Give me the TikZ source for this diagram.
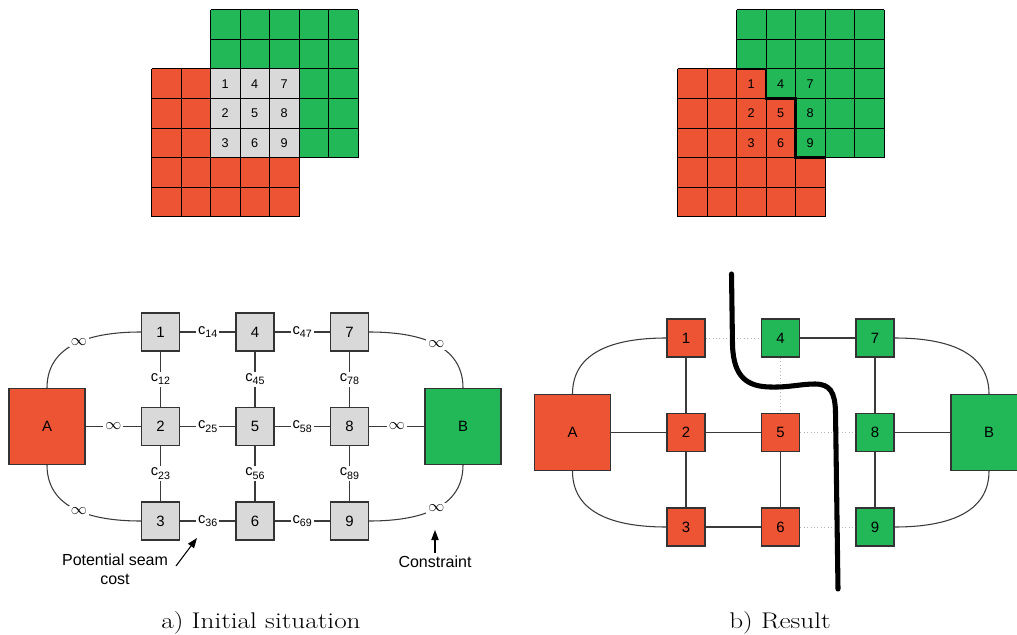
\documentclass[tikz,border=0pt]{standalone}
\usepackage{fontspec}
\newfontfamily\arial{Liberation Sans}
\usetikzlibrary{arrows.meta}
\definecolor{redc}{HTML}{EC5434}
\definecolor{greenc}{HTML}{22B757}
\definecolor{grayc}{HTML}{D9D9D9}
\definecolor{boxc}{HTML}{333333}
\definecolor{linec}{HTML}{3A3A3A}
\definecolor{cutc}{HTML}{B4B4B4}
% weight label with a lowered, smaller index
\newcommand\wsub[2]{#1\raisebox{-0.45ex}{\fontsize{8}{9}\selectfont #2}}
% wide caption lettering
\newcommand\captext[1]{\scalebox{1.2}[1]{#1}}
\tikzset{
  gridline/.style={black, line width=0.75pt},
  gridnum/.style={inner sep=0pt, font=\arial\fontsize{9.5}{11}\selectfont},
  seamedge/.style={black, line width=2pt},
  cell/.style={draw=boxc, line width=0.9pt, minimum size=28.5pt, inner sep=0pt,
    font=\arial\fontsize{11.2}{13}\selectfont},
  graybox/.style={cell, fill=grayc},
  redbox/.style={cell, fill=redc},
  greenbox/.style={cell, fill=greenc},
  bigbox/.style={minimum size=57pt},
  edge/.style={draw=linec, line width=0.8pt},
  cutedge/.style={draw=cutc, dotted, line width=0.6pt},
  weight/.style={fill=white, inner sep=1.5pt, font=\arial\fontsize{11}{13}\selectfont},
  inf/.style={fill=white, inner sep=1.5pt, font=\fontsize{13}{15}\selectfont},
  note/.style={inner sep=2pt, font=\arial\fontsize{12}{14.5}\selectfont},
  pointer/.style={black, line width=0.8pt, -{Triangle[length=7.5pt,width=5.5pt]}},
  seam/.style={black, line width=3.8pt, line cap=round},
  caption/.style={inner sep=0pt, font=\fontsize{17}{20}\selectfont},
}
\begin{document}
\begin{tikzpicture}[x=0.75pt, y=-0.75pt]
\useasboundingbox (0,0) rectangle (1017,635);
\clip (0,0) rectangle (1017,635);

% ---------- top left: two overlapping patches ----------
\fill[greenc] (210.5,10) rectangle ++(147.5,147.5);
\fill[redc] (151.5,69) rectangle ++(147.5,147.5);
\fill[grayc] (210.5,69) rectangle ++(88.5,88.5);

% ---------- top right: patches after the cut ----------
\fill[greenc] (736.5,10) rectangle ++(147.5,147.5);
\fill[redc] (677.5,69) rectangle ++(147.5,147.5);
\foreach \cx/\cy in {766/69, 795.5/69, 795.5/98.5, 795.5/128}
  \fill[greenc] (\cx,\cy) rectangle ++(29.5,29.5);

% pixel grids of both patches
\foreach \ox/\oy in {151.5/69, 210.5/10, 677.5/69, 736.5/10} {
  \foreach \i in {0,...,5} {
    \draw[gridline] (\ox+29.5*\i,\oy) -- ++(0,147.5);
    \draw[gridline] (\ox,\oy+29.5*\i) -- ++(147.5,0);
  }
}

% numbered overlap pixels
\foreach \c in {0,1,2} {
  \foreach \r in {0,1,2} {
    \pgfmathtruncatemacro\k{3*\c+\r+1}
    \node[gridnum] (gl\k) at (225.25+29.5*\c, 83.75+29.5*\r) {\k};
    \node[gridnum] (gr\k) at (751.25+29.5*\c, 83.75+29.5*\r) {\k};
  }
}

% seam between the patches
\draw[seamedge] (736.5,69) -- (766,69) -- (766,98.5) -- (795.5,98.5)
  -- (795.5,157.5) -- (825,157.5);

% ---------- bottom left: graph before the cut ----------
\foreach \c in {0,1,2} {
  \foreach \r in {0,1,2} {
    \pgfmathtruncatemacro\k{3*\c+\r+1}
    \node[graybox] (L\k) at (160.5+94.5*\c, 332+94.5*\r) {\k};
  }
}
\node[redbox, bigbox] (LA) at (47,426.5) {A};
\node[greenbox, bigbox] (LB) at (463,426.5) {B};

\draw[edge] (L1) -- node[weight] {\wsub{c}{14}} (L4);
\draw[edge] (L4) -- node[weight] {\wsub{c}{47}} (L7);
\draw[edge] (L2) -- node[weight] {\wsub{c}{25}} (L5);
\draw[edge] (L5) -- node[weight] {\wsub{c}{58}} (L8);
\draw[edge] (L3) -- node[weight] {\wsub{c}{36}} (L6);
\draw[edge] (L6) -- node[weight] {\wsub{c}{69}} (L9);
\draw[edge] (L1) -- node[weight] {\wsub{c}{12}} (L2);
\draw[edge] (L2) -- node[weight] {\wsub{c}{23}} (L3);
\draw[edge] (L4) -- node[weight] {\wsub{c}{45}} (L5);
\draw[edge] (L5) -- node[weight] {\wsub{c}{56}} (L6);
\draw[edge] (L7) -- node[weight] {\wsub{c}{78}} (L8);
\draw[edge] (L8) -- node[weight] {\wsub{c}{89}} (L9);

\draw[edge] (LA) -- node[inf] {$\infty$} (L2);
\draw[edge] (L8) -- node[inf] {$\infty$} (LB);
\draw[edge] (LA.north) .. controls +(0,-48) and +(-40,0) .. (L1.west)
  node[inf, pos=0.5] {$\infty$};
\draw[edge] (LA.south) .. controls +(0,48) and +(-40,0) .. (L3.west)
  node[inf, pos=0.5] {$\infty$};
\draw[edge] (LB.north) .. controls +(0,-48) and +(40,0) .. (L7.east)
  node[inf, pos=0.45] {$\infty$};
\draw[edge] (LB.south) .. controls +(0,48) and +(40,0) .. (L9.east)
  node[inf, pos=0.45] {$\infty$};

% annotations
\node[note, align=center] (ps) at (115,569) {Potential seam\\cost};
\coordinate (psTail) at (176,566);
\coordinate (psTip) at (197,538);
\draw[pointer] (psTail) -- (psTip);
\node[note] (cons) at (435,562) {Constraint};
\coordinate (consTip) at (435,530);
\draw[pointer] (cons.north) -- (consTip);

% ---------- bottom right: graph after the cut ----------
\foreach \k/\c/\r/\s in {1/0/0/redbox, 2/0/1/redbox, 3/0/2/redbox,
    4/1/0/greenbox, 5/1/1/redbox, 6/1/2/redbox,
    7/2/0/greenbox, 8/2/1/greenbox, 9/2/2/greenbox}
  \node[\s] (R\k) at (686+94.5*\c, 338+94.5*\r) {\k};
\node[redbox, bigbox] (RA) at (572.5,432.5) {A};
\node[greenbox, bigbox] (RB) at (989,432.5) {B};

\draw[cutedge] (R1) -- (R4);
\draw[cutedge] (R4) -- (R5);
\draw[cutedge] (R5) -- (R8);
\draw[cutedge] (R6) -- (R9);

\draw[edge] (R1) -- (R2);
\draw[edge] (R2) -- (R3);
\draw[edge] (R2) -- (R5);
\draw[edge] (R3) -- (R6);
\draw[edge] (R5) -- (R6);
\draw[edge] (R4) -- (R7);
\draw[edge] (R7) -- (R8);
\draw[edge] (R8) -- (R9);
\draw[edge] (RA) -- (R2);
\draw[edge] (R8) -- (RB);
\draw[edge] (RA.north) .. controls +(0,-48) and +(-40,0) .. (R1.west);
\draw[edge] (RA.south) .. controls +(0,48) and +(-40,0) .. (R3.west);
\draw[edge] (RB.north) .. controls +(0,-48) and +(40,0) .. (R7.east);
\draw[edge] (RB.south) .. controls +(0,48) and +(40,0) .. (R9.east);

% the minimum cut
\draw[seam] (731.5,274) -- (732.5,345)
  .. controls (733.5,378) and (748,386.5) .. (770,387)
  .. controls (790,387.5) and (800,384) .. (815,384)
  .. controls (830,384) and (835,392) .. (835.5,412)
  -- (838,589);

% ---------- captions ----------
\node[caption, anchor=base] (capa) at (261,628) {\captext{a) Initial situation}};
\node[caption, anchor=base] (capb) at (780,628) {\captext{b) Result}};
\end{tikzpicture}
\end{document}
